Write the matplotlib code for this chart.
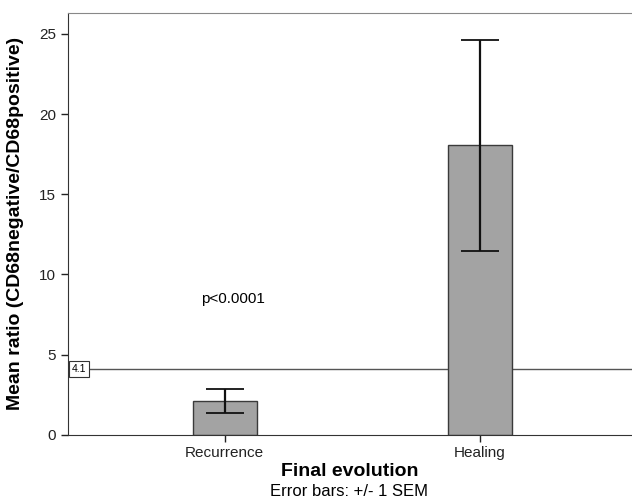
import matplotlib.pyplot as plt
import numpy as np

plt.rcParams['font.family'] = ['Liberation Sans', 'DejaVu Sans']

categories = ["Recurrence", "Healing"]
means = [2.08, 18.05]
sem = [0.74, 6.6]
ref_value = 4.1

fig = plt.figure(figsize=(6.32, 5.03), dpi=100)
ax = fig.add_axes([0.1076, 0.1358, 0.8924, 0.839])

x = np.arange(len(categories))
ax.bar(x, means, width=0.25, color='#a3a3a3', edgecolor='#3a3a3a', linewidth=1.0, zorder=2)
ax.errorbar(x, means, yerr=sem, fmt='none', ecolor='#111111', elinewidth=1.6,
            capsize=14, capthick=1.3, zorder=3)

ax.axhline(ref_value, color='#555555', linewidth=1.0, zorder=1)
ax.text(-0.598, ref_value, "4.1", fontsize=7.5, va='center', ha='left',
        bbox=dict(boxstyle='square,pad=0.25', facecolor='white', edgecolor='#333333', linewidth=0.8),
        zorder=4)

ax.text(0.033, 8.47, "p<0.0001", fontsize=11, ha='center', va='center')

ax.set_xlim(-0.613, 1.595)
ax.set_ylim(0, 26.33)
ax.set_xticks(x)
ax.set_xticklabels(categories)
ax.set_yticks([0, 5, 10, 15, 20, 25])
ax.tick_params(axis='both', direction='out', length=5, width=1, labelsize=11, colors='#222222')

ax.spines['right'].set_visible(False)
ax.spines['top'].set_color('#888888')
ax.spines['left'].set_color('#333333')
ax.spines['bottom'].set_color('#333333')

ax.set_ylabel("Mean ratio (CD68negative/CD68positive)", fontsize=14, fontweight='bold')
ax.yaxis.set_label_coords(-0.078, 0.5)
ax.set_xlabel("Final evolution", fontsize=14, fontweight='bold', va='center')
ax.xaxis.set_label_coords(0.5, -0.0884)
fig.text(0.552, 1 - 491 / 503, "Error bars: +/- 1 SEM", fontsize=12, ha='center', va='center')

fig.savefig("out.png", dpi=100)
